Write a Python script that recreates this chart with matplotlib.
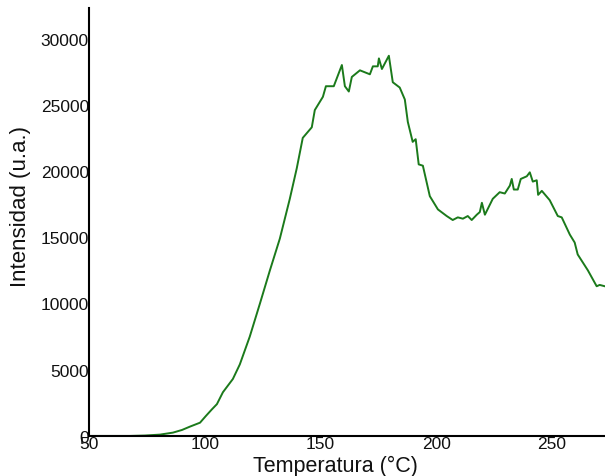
import matplotlib
matplotlib.use("Agg")
import matplotlib.pyplot as plt

temperatura = [50, 67.7, 74.2, 80.7, 86.3, 90.2, 93.6, 98, 100.5, 103.1, 105.3, 107.9, 112.2,
               115.2, 119.5, 123.9, 128.2, 132.5, 136.8, 139.8, 142.4, 146.3, 147.6, 151.1,
               152.4, 155.8, 159.3, 160.6, 162.3, 163.6, 167.1, 171.4, 172.7, 174.8, 175.3,
               176.6, 179.6, 181.3, 184.3, 186.5, 187.8, 189.9, 191.2, 192.5, 194.3, 197.3,
               200.8, 204.6, 207.2, 209.4, 211.6, 213.7, 215.4, 217.6, 218.9, 219.8, 221.1,
               224.5, 227.5, 229.7, 231.9, 232.7, 233.6, 235.3, 236.6, 239.2, 240.5, 241.8,
               243.5, 244.1, 245.7, 249.1, 252.6, 254.3, 257.8, 259.9, 261.2, 265.6, 269.4,
               270.7, 272.9]
intensidad = [0, 0, 30, 100, 250, 450, 700, 1000, 1500, 2000, 2400, 3300, 4300,
              5400, 7500, 10000, 12500, 14900, 17900, 20200, 22500, 23300, 24600, 25600,
              26400, 26400, 28000, 26400, 26000, 27100, 27600, 27300, 27900, 27900, 28500,
              27700, 28700, 26700, 26300, 25400, 23700, 22200, 22400, 20500, 20400, 18100,
              17100, 16600, 16300, 16500, 16400, 16600, 16300, 16700, 16900, 17600, 16700,
              17900, 18400, 18300, 18900, 19400, 18600, 18600, 19400, 19600, 19900, 19200,
              19300, 18200, 18500, 17800, 16600, 16500, 15200, 14600, 13700, 12500, 11300,
              11400, 11300]

x_ticks = [50, 100, 150, 200, 250]
y_ticks = [0, 5000, 10000, 15000, 20000, 25000, 30000]

plt.rcParams['font.family'] = ['Liberation Sans', 'DejaVu Sans']

fig = plt.figure(figsize=(6.05, 4.77), dpi=100)
ax = fig.add_axes([0.147, 0.084, 0.853, 0.897])
ax.plot(temperatura, intensidad, color='#1b7a1b', lw=1.4)
ax.set_xlim(50, 273)
ax.set_ylim(0, 32300)
ax.set_xticks(x_ticks)
ax.set_yticks(y_ticks)
ax.tick_params(length=0, labelsize=12.5, pad=0, labelcolor='#111111')
for s in ['top', 'right']:
    ax.spines[s].set_visible(False)
for s in ['left', 'bottom']:
    ax.spines[s].set_linewidth(1.5)
ax.set_xlabel('Temperatura (°C)', fontsize=15.5, color='#111111')
ax.set_ylabel('Intensidad (u.a.)', fontsize=16, color='#111111')
ax.xaxis.set_label_coords(0.478, -0.044)
ax.yaxis.set_label_coords(-0.112, 0.539)
fig.savefig('out.png', dpi=100)
